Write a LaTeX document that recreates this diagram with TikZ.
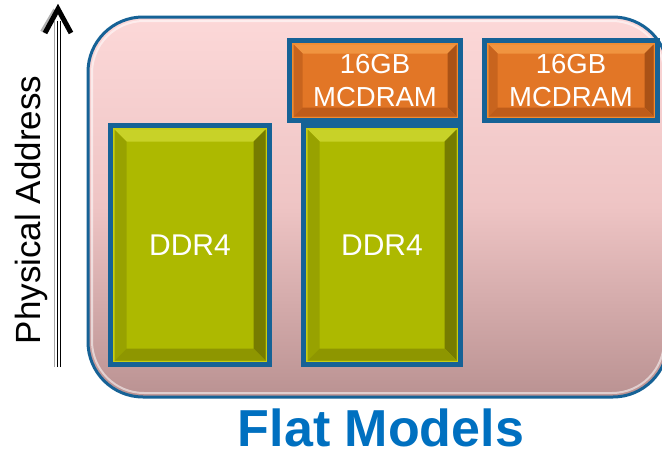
\documentclass[tikz,border=0pt]{standalone}
\usepackage{fontspec}
\setmainfont{Liberation Sans}
\usetikzlibrary{arrows.meta,calc}
\definecolor{frameblue}{RGB}{22,98,150}
\definecolor{pinktop}{RGB}{252,216,216}
\definecolor{pinkmid}{RGB}{238,196,196}
\definecolor{pinkbot}{RGB}{186,146,146}
\definecolor{gbase}{RGB}{173,185,0}
\definecolor{glight}{RGB}{200,210,40}
\definecolor{gleft}{RGB}{152,162,0}
\definecolor{gright}{RGB}{118,124,0}
\definecolor{gbot}{RGB}{142,150,0}
\definecolor{grim}{RGB}{200,205,20}
\definecolor{obase}{RGB}{226,118,38}
\definecolor{olight}{RGB}{240,148,64}
\definecolor{oleft}{RGB}{200,100,30}
\definecolor{oright}{RGB}{170,82,22}
\definecolor{obot}{RGB}{190,92,26}
\definecolor{orim}{RGB}{238,140,50}
\definecolor{titleblue}{RGB}{0,112,192}
\tikzset{
  boxframe/.style={fill=frameblue, inner sep=0pt, outer sep=0pt},
  boxtext/.style={text=white, align=center, inner sep=0pt},
}
% #1 name, #2 x1, #3 y1, #4 x2, #5 y2, #6 color prefix, #7 bevel width
\newcommand\bevbox[7]{%
  \node[boxframe, minimum width={(#4-#2)*1pt}, minimum height={(#5-#3)*1pt}]
    (#1) at ({(#2+#4)/2},{(#3+#5)/2}) {};
  \fill[#6rim] ({#2+5},{#3+5}) rectangle ({#4-5},{#5-5});
  \fill[#6base] ({#2+6.5},{#3+6.5}) rectangle ({#4-6.5},{#5-6.5});
  \fill[#6light] ({#2+6.5},{#3+6.5}) -- ({#4-6.5},{#3+6.5}) -- ({#4-6.5-#7},{#3+6.5+#7}) -- ({#2+6.5+#7},{#3+6.5+#7}) -- cycle;
  \fill[#6left] ({#2+6.5},{#3+6.5}) -- ({#2+6.5+#7},{#3+6.5+#7}) -- ({#2+6.5+#7},{#5-6.5-#7}) -- ({#2+6.5},{#5-6.5}) -- cycle;
  \fill[#6right] ({#4-6.5},{#3+6.5}) -- ({#4-6.5},{#5-6.5}) -- ({#4-6.5-#7},{#5-6.5-#7}) -- ({#4-6.5-#7},{#3+6.5+#7}) -- cycle;
  \fill[#6bot] ({#2+6.5},{#5-6.5}) -- ({#4-6.5},{#5-6.5}) -- ({#4-6.5-#7},{#5-6.5-#7}) -- ({#2+6.5+#7},{#5-6.5-#7}) -- cycle;
}
\begin{document}
\begin{tikzpicture}[x=1pt,y=-1pt]
\useasboundingbox (0,0) rectangle (662,455);
\clip (0,0) rectangle (662,455);
\fill[white] (0,0) rectangle (662,455);
% outer panel
\node[draw=frameblue, line width=3pt, rounded corners=55pt, inner sep=0pt, outer sep=0pt,
  top color=pinktop, bottom color=pinkbot, middle color=pinkmid,
  minimum width=580pt, minimum height=380pt] (panel) at (378,207) {};
\draw[white, opacity=0.55, line width=2pt, rounded corners=52pt] (92,21) rectangle (664,393);
% boxes
\bevbox{ddrA}{108}{123}{272}{367}{g}{12}
\bevbox{ddrB}{301}{123}{463}{367}{g}{12}
\bevbox{mcA}{287}{38}{463}{123}{o}{9}
\bevbox{mcB}{482}{38}{660}{123}{o}{9}
\node[boxtext, font=\fontsize{30}{34}\selectfont] (tA) at (ddrA) {DDR4};
\node[boxtext, font=\fontsize{30}{34}\selectfont] (tB) at (ddrB) {DDR4};
\node[boxtext, font=\fontsize{27.5}{33}\selectfont] (tC) at (mcA) {16GB\\MCDRAM};
\node[boxtext, font=\fontsize{27.5}{33}\selectfont] (tD) at (mcB) {16GB\\MCDRAM};
% title
\node[text=titleblue, font=\fontsize{52}{60}\selectfont\bfseries, anchor=base, inner sep=0pt, text depth=0pt] (title) at (381,446) {Flat Models};
% axis
\node[rotate=90, anchor=base, font=\fontsize{35}{40}\selectfont, inner sep=0pt] (axlabel) at (40,210) {Physical Address};
\coordinate (axbot) at (58,367);
\coordinate (axtop) at (58,9);
\draw[gray!70, line width=1.5pt] ($(axbot)+(-3.5,0)$) -- ($(axtop)+(-3.5,12)$);
\draw[black, line width=1.3pt] ($(axbot)+(-0.5,0)$) -- ($(axtop)+(-0.5,12)$);
\draw[black, line width=1.3pt] ($(axbot)+(2.5,0)$) -- ($(axtop)+(2.5,12)$);
\draw[gray!60, line width=5pt, line cap=butt, line join=miter] ($(axtop)+(-15.5,23)$) -- ($(axtop)+(-2.5,1)$);
\draw[black, line width=5pt, line cap=butt, line join=miter] ($(axtop)+(-13,24)$) -- (axtop) -- ($(axtop)+(13,24)$);
\end{tikzpicture}
\end{document}
